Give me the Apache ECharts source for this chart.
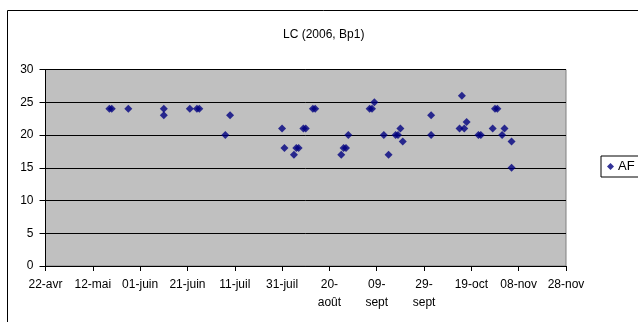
<!DOCTYPE html>
<html>
<head>
<meta charset="utf-8">
<script src="https://cdn.jsdelivr.net/npm/echarts@6/dist/echarts.min.js"></script>
<style>
html,body{margin:0;padding:0;background:#fff;}
#chart{width:638px;height:322px;}
</style>
</head>
<body>
<div id="chart"></div>
<script>
// Data (date, value)
const seriesName = 'AF';
const dates = [
  '2006-05-19','2006-05-20','2006-05-27','2006-06-11','2006-06-11','2006-06-22',
  '2006-06-25','2006-06-26','2006-07-07','2006-07-09','2006-07-31','2006-08-01',
  '2006-08-05','2006-08-06','2006-08-07','2006-08-09','2006-08-10','2006-08-13',
  '2006-08-14','2006-08-25','2006-08-26','2006-08-27','2006-08-28','2006-09-06',
  '2006-09-07','2006-09-08','2006-09-12','2006-09-14','2006-09-17','2006-09-18',
  '2006-09-19','2006-09-20','2006-10-02','2006-10-02','2006-10-14','2006-10-15',
  '2006-10-16','2006-10-17','2006-10-22','2006-10-23','2006-10-28','2006-10-29',
  '2006-10-30','2006-11-01','2006-11-02','2006-11-05','2006-11-05'
];
const values = [
  24,24,24,24,23,24,
  24,24,20,23,21,18,
  17,18,18,21,21,24,
  24,17,18,18,20,24,
  24,25,20,17,20,20,
  21,19,23,20,21,26,
  21,22,20,20,21,24,
  24,20,21,19,15
];
const axisStart = '2006-04-22';
const tickLabels = ['22-avr','12-mai','01-juin','21-juin','11-juil','31-juil','20-\nao\u00fbt','09-\nsept','29-\nsept','19-oct','08-nov','28-nov'];
const yTicks = [0,5,10,15,20,25,30];

const DAY = 86400000;
const t0 = Date.parse(axisStart + 'T00:00:00Z');
const data = dates.map((d, i) => [Math.round((Date.parse(d + 'T00:00:00Z') - t0) / DAY), values[i]]);

const font = 'Liberation Sans, Arial, sans-serif';
const chart = echarts.init(document.getElementById('chart'), null, {renderer: 'canvas'});
chart.setOption({
  animation: false,
  backgroundColor: '#ffffff',
  title: {
    text: 'LC (2006, Bp1)',
    left: 278, top: 24,
    textStyle: {fontFamily: font, fontSize: 12, fontWeight: 'normal', color: '#000'}
  },
  graphic: [{
    type: 'rect',
    shape: {x: 7.5, y: 10.5, width: 700, height: 400},
    style: {fill: 'none', stroke: '#000', lineWidth: 1},
    silent: true, z: -1
  }],
  legend: {
    data: [seriesName],
    left: 601, top: 156,
    orient: 'vertical',
    borderColor: '#000', borderWidth: 1,
    padding: [4, 30, 4, 6],
    itemWidth: 7, itemHeight: 7, itemGap: 5,
    icon: 'diamond',
    textStyle: {fontFamily: font, fontSize: 13, color: '#000', padding: [0, 0, 0, -1]}
  },
  grid: {
    left: 45.5, right: 72, top: 69.5, bottom: 56,
    show: true, backgroundColor: '#C0C0C0', borderColor: '#808080', borderWidth: 1
  },
  xAxis: {
    type: 'value', min: 0, max: 220, interval: 20,
    axisLine: {show: true, onZero: false, lineStyle: {color: '#000', width: 1}},
    axisTick: {show: true, length: 5, lineStyle: {color: '#000'}},
    splitLine: {show: false},
    axisLabel: {
      formatter: v => tickLabels[Math.round(v / 20)],
      fontFamily: font, fontSize: 12, color: '#000', lineHeight: 18, margin: 10
    }
  },
  yAxis: {
    type: 'value', min: yTicks[0], max: yTicks[yTicks.length - 1], interval: 5,
    axisLine: {show: true, lineStyle: {color: '#000', width: 1}},
    axisTick: {show: true, length: 6, lineStyle: {color: '#000'}},
    splitLine: {show: true, lineStyle: {color: '#000', width: 1}},
    axisLabel: {fontFamily: font, fontSize: 12, color: '#000', margin: 12}
  },
  series: [{
    name: seriesName,
    type: 'scatter',
    symbol: 'diamond',
    symbolSize: 8,
    itemStyle: {color: '#000080'},
    data: data
  }]
});
</script>
</body>
</html>
